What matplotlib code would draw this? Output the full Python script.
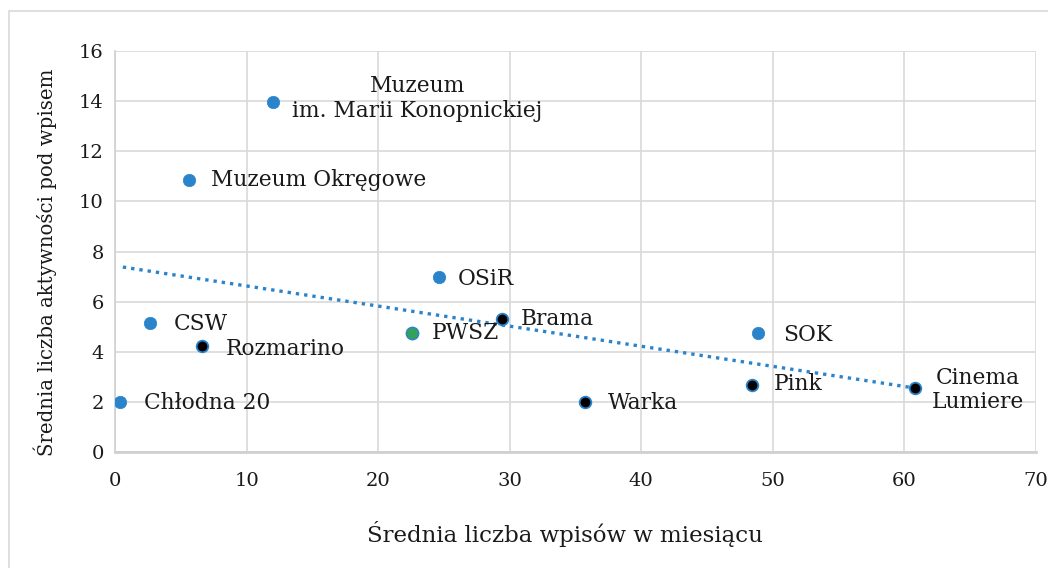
import matplotlib
matplotlib.use("Agg")
import matplotlib.pyplot as plt
from matplotlib.patches import Rectangle

# Dane
nazwy = ["Chłodna 20", "CSW", "Rozmarino", "Muzeum Okręgowe",
         "Muzeum\nim. Marii Konopnickiej", "OSiR", "PWSZ", "Brama",
         "Warka", "SOK", "Pink", "Cinema\nLumiere"]
wpisy = [0.4, 2.7, 6.6, 5.6, 12.0, 24.6, 22.6, 29.4, 35.7, 48.9, 48.4, 60.8]
aktywnosc = [2.0, 5.15, 4.23, 10.83, 13.97, 6.97, 4.76, 5.3, 2.0, 4.74, 2.68, 2.56]
grupa = ["b", "b", "k", "b", "b", "b", "g", "k", "k", "b", "k", "k"]

# linia trendu (odczytane końce)
trend_x = [0.6, 60.8]
trend_y = [7.38, 2.56]

NIEBIESKI = "#2a84cc"
ZIELONY = "#33a05c"

plt.rcParams["font.family"] = ["DejaVu Serif"]

fig = plt.figure(figsize=(10.48, 5.68), dpi=100)
ax = fig.add_axes([0.1097, 0.2037, 0.8788, 0.7070])

# ramka obszaru wykresu
fig.patches.append(Rectangle((9 / 1048, -0.1), 1.2, 1.1 - 11 / 568,
                             transform=fig.transFigure, fill=False,
                             edgecolor="#d9d9d9", linewidth=1.2, zorder=0))

ax.plot(trend_x, trend_y, linestyle=(0, (1, 1.5)), color=NIEBIESKI,
        linewidth=2.4, zorder=2)

for x, y, g in zip(wpisy, aktywnosc, grupa):
    if g == "b":
        ax.scatter(x, y, s=80, color=NIEBIESKI, edgecolor=NIEBIESKI,
                   linewidth=0.5, zorder=3)
    elif g == "g":
        ax.scatter(x, y, s=80, color=ZIELONY, edgecolor=NIEBIESKI,
                   linewidth=1.0, zorder=3)
    else:
        ax.scatter(x, y, s=70, color="black", edgecolor=NIEBIESKI,
                   linewidth=1.3, zorder=3)

# podpisy punktów: (dx, dy, odstęp linii)
przesuniecia = {
    "Chłodna 20": (17, -1, 1.1),
    "CSW": (17, -1, 1.1),
    "Rozmarino": (17, -2, 1.1),
    "Muzeum Okręgowe": (16, 0, 1.1),
    "Muzeum\nim. Marii Konopnickiej": (14, 2.5, 1.2),
    "OSiR": (14, -1, 1.1),
    "PWSZ": (14, 0, 1.1),
    "Brama": (14, 0, 1.1),
    "Warka": (17, -1, 1.1),
    "SOK": (18, -1, 1.1),
    "Pink": (16, 1, 1.1),
    "Cinema\nLumiere": (12, -1.5, 1.08),
}
for n, x, y in zip(nazwy, wpisy, aktywnosc):
    dx, dy, ls = przesuniecia[n]
    ax.annotate(n, (x, y), xytext=(dx, dy), textcoords="offset points",
                ha="left", va="center", multialignment="center",
                fontsize=15.7, color="#1a1a1a", linespacing=ls, zorder=4)

ax.set_xlim(0, 70)
ax.set_ylim(0, 16)
ax.set_xticks(range(0, 71, 10))
ax.set_yticks(range(0, 17, 2))
ax.tick_params(axis="both", length=0, labelsize=14, colors="#1a1a1a")
ax.tick_params(axis="x", pad=14)
ax.tick_params(axis="y", pad=8)
ax.grid(True, color="#d9d9d9", linewidth=1.2)
ax.set_axisbelow(True)
for s in ["top", "right"]:
    ax.spines[s].set_visible(False)
ax.spines["left"].set_color("#d0d0d0")
ax.spines["left"].set_linewidth(1.2)
ax.spines["bottom"].set_color("#d0d0d0")
ax.spines["bottom"].set_linewidth(2)

ax.set_xlabel("Średnia liczba wpisów w miesiącu", fontsize=16.5,
              color="#1a1a1a")
ax.set_ylabel("Średnia liczba aktywności pod wpisem", fontsize=14.2,
              color="#1a1a1a")
ax.xaxis.set_label_coords(0.4886, -0.171)
ax.yaxis.set_label_coords(-0.0625, 0.474)

fig.savefig("out.png", dpi=100)
